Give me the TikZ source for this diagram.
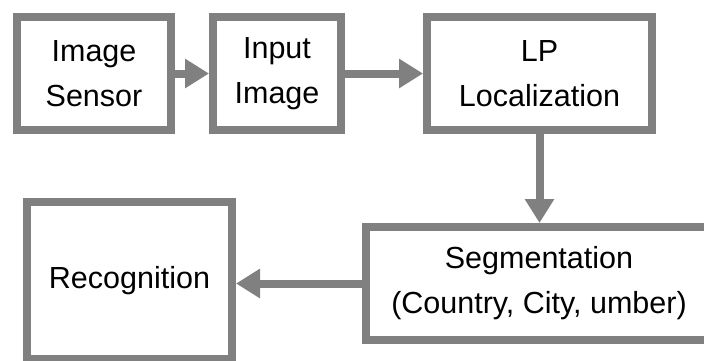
\documentclass[tikz,border=0pt]{standalone}
\usepackage{fontspec}
\setmainfont{Liberation Sans}
\usepackage{tikz}
\usetikzlibrary{arrows.meta}
\definecolor{myboxcolor}{HTML}{808080}
\tikzset{
  mybox/.style={draw=myboxcolor, line width=4pt, fill=white, rectangle, align=center,
    font=\fontsize{15.25pt}{22.5pt}\selectfont},
  myarrow/.style={draw=myboxcolor, line width=4pt, -{Triangle[length=12pt, width=14pt]}}
}

\begin{document}
\begin{tikzpicture}[x=0.5pt, y=-0.5pt]%
\useasboundingbox (0, 0) rectangle (704, 360);%
\clip (0, 0) rectangle (704, 360);%
% top row
\node[mybox, minimum width=77pt, minimum height=56.5pt] (sensor) at (94, 73.5) {Image\\Sensor};%
\node[mybox, minimum width=64pt, minimum height=56.5pt] (input) at (277, 73.5) {Input\\Image};%
\node[mybox, minimum width=112.5pt, minimum height=56.5pt] (local) at (539.5, 73.5) {LP\\Localization};%
% bottom row
\node[mybox, minimum width=173pt, minimum height=56.5pt] (segment) at (539, 283.5) {Segmentation\\(Country, City, umber)};%
\node[mybox, minimum width=102.5pt, minimum height=78.5pt] (recog) at (129.5, 280.5) {Recognition};%
% arrows
\draw[myarrow] (sensor.east) -- (input.west);%
\draw[myarrow] (input.east) -- (local.west);%
\draw[myarrow] (local.south) -- (local.south |- segment.north);%
\draw[myarrow] (segment.west) -- (segment.west -| recog.east);%
\end{tikzpicture}
\end{document}
